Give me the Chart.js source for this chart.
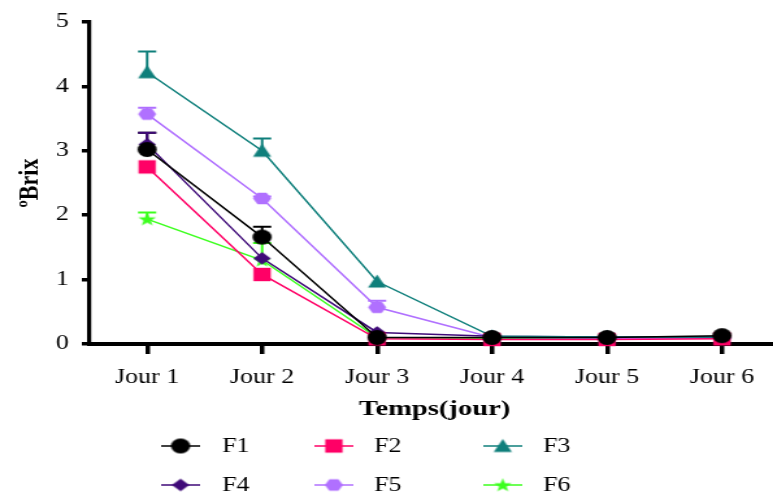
<!DOCTYPE html>
<html>
<head>
<meta charset="utf-8">
<title>Brix</title>
<script src="https://cdn.jsdelivr.net/npm/chart.js@4/dist/chart.umd.min.js"></script>
<style>
  html, body { margin: 0; padding: 0; background: #fff; overflow: hidden; }
  #wrap { width: 600px; height: 495px; transform: scaleX(1.2992); transform-origin: 0 0; }
</style>
</head>
<body>
<div id="wrap"><canvas id="brixChart" width="600" height="495"></canvas></div>
<script>
const jours = ['Jour 1', 'Jour 2', 'Jour 3', 'Jour 4', 'Jour 5', 'Jour 6'];
const yTicks = [0, 1, 2, 3, 4, 5];

const f1 = [3.02, 1.66, 0.10, 0.10, 0.10, 0.13];
const f2 = [2.75, 1.08, 0.08, 0.07, 0.07, 0.08];
const f3 = [4.22, 3.00, 0.97, 0.12, 0.11, 0.11];
const f4 = [3.10, 1.33, 0.18, 0.12, 0.11, 0.11];
const f5 = [3.57, 2.26, 0.57, 0.10, 0.09, 0.09];
const f6 = [1.94, 1.30, 0.10, 0.09, 0.09, 0.09];

// ecart-type (seulement la moitie haute est visible)
const f1Err = [0.26, 0.16, 0, 0, 0, 0];
const f2Err = [0, 0, 0, 0, 0, 0];
const f3Err = [0.32, 0.19, 0, 0, 0, 0];
const f4Err = [0.18, 0, 0, 0, 0, 0];
const f5Err = [0.10, 0.03, 0.10, 0, 0, 0];
const f6Err = [0.10, 0.27, 0, 0, 0, 0];

const serif = "'Liberation Serif', 'Times New Roman', serif";

function makeMarker(shape, color) {
    const c = document.createElement('canvas');
    c.width = 17;
    c.height = 17;
    const g = c.getContext('2d');
    const cx = 8.5, cy = 8.5;
    g.fillStyle = color;
    g.beginPath();
    if (shape === 'circle') {
        g.arc(cx, cy, 7.4, 0, Math.PI * 2);
    } else if (shape === 'square') {
        g.rect(1.8, 1.8, 13.4, 13.4);
    } else if (shape === 'triangle') {
        g.moveTo(cx, 1.5); g.lineTo(15.5, 14.5); g.lineTo(1.5, 14.5);
    } else if (shape === 'diamond') {
        g.moveTo(cx, 2.2); g.lineTo(15.2, cy); g.lineTo(cx, 14.8); g.lineTo(1.8, cy);
    } else if (shape === 'hexagon') {
        g.moveTo(1.5, cy); g.lineTo(5, 2.8); g.lineTo(12, 2.8);
        g.lineTo(15.5, cy); g.lineTo(12, 14.2); g.lineTo(5, 14.2);
    } else if (shape === 'star') {
        for (let i = 0; i < 10; i++) {
            const r = i % 2 ? 2.9 : 7.2;
            const a = -Math.PI / 2 + i * Math.PI / 5;
            const px = cx + r * Math.cos(a), py = cy + 0.5 + r * Math.sin(a);
            if (i === 0) g.moveTo(px, py); else g.lineTo(px, py);
        }
    }
    g.closePath();
    g.fill();
    return c;
}

function serie(label, data, color, shape) {
    return {
        label: label,
        data: data,
        borderColor: color,
        backgroundColor: color,
        borderWidth: 1.5,
        pointStyle: makeMarker(shape, color),
        pointRadius: 7,
        tension: 0,
        clip: false
    };
}

const errBars = [f1Err, f2Err, f3Err, f4Err, f5Err, f6Err];

const errorBarsPlugin = {
    id: 'errorBars',
    beforeDatasetsDraw(chart) {
        const { ctx, scales: { x, y } } = chart;
        ctx.save();
        chart.data.datasets.forEach((ds, i) => {
            errBars[i].forEach((e, j) => {
                if (!e) return;
                const px = x.getPixelForValue(j);
                const py = y.getPixelForValue(ds.data[j]);
                const pt = y.getPixelForValue(ds.data[j] + e);
                ctx.strokeStyle = ds.borderColor;
                ctx.lineWidth = 2;
                ctx.beginPath();
                ctx.moveTo(px, py);
                ctx.lineTo(px, pt);
                ctx.moveTo(px - 7, pt);
                ctx.lineTo(px + 7, pt);
                ctx.stroke();
            });
        });
        ctx.restore();
    }
};

const legendCols = [139, 257, 387];
const legendTextX = [171, 288, 418];
const legendRows = [446, 485];

const bottomLegendPlugin = {
    id: 'bottomLegend',
    afterDraw(chart) {
        const ctx = chart.ctx;
        ctx.save();
        ctx.font = '20px ' + serif;
        ctx.textBaseline = 'middle';
        ctx.textAlign = 'left';
        chart.data.datasets.forEach((ds, i) => {
            const mx = legendCols[i % 3];
            const my = legendRows[Math.floor(i / 3)];
            ctx.strokeStyle = ds.borderColor;
            ctx.lineWidth = 1.5;
            ctx.beginPath();
            ctx.moveTo(mx - 15, my);
            ctx.lineTo(mx + 15, my);
            ctx.stroke();
            ctx.drawImage(ds.pointStyle, mx - 8.5, my - 8.5);
            ctx.fillStyle = '#000';
            ctx.fillText(ds.label, legendTextX[i % 3], my + 1);
        });
        ctx.restore();
    }
};

const ctx = document.getElementById('brixChart').getContext('2d');

window.brixChart = new Chart(ctx, {
    type: 'line',
    data: {
        labels: jours,
        datasets: [
            serie('F1', f1, '#000000', 'circle'),
            serie('F2', f2, '#FF0066', 'square'),
            serie('F3', f3, '#0F7F7B', 'triangle'),
            serie('F4', f4, '#3F0A78', 'diamond'),
            serie('F5', f5, '#B070FF', 'hexagon'),
            serie('F6', f6, '#3CFF1E', 'star')
        ]
    },
    options: {
        responsive: false,
        animation: false,
        layout: {
            autoPadding: false,
            padding: { top: 20, right: 0, bottom: 71, left: 0 }
        },
        plugins: {
            legend: { display: false },
            tooltip: { enabled: false }
        },
        scales: {
            x: {
                offset: true,
                afterFit: (s) => { s.height = 80; s.paddingLeft = 0; s.paddingRight = 0; },
                border: { display: true, color: '#000', width: 4 },
                grid: {
                    display: true,
                    drawOnChartArea: false,
                    drawTicks: true,
                    tickLength: 10,
                    lineWidth: 3.5,
                    color: '#000'
                },
                ticks: {
                    color: '#000',
                    padding: 12,
                    maxRotation: 0,
                    font: { family: serif, size: 20 }
                },
                title: {
                    display: true,
                    text: 'Temps(jour)',
                    color: '#000',
                    padding: { top: 0, bottom: 1 },
                    font: { family: serif, size: 22, weight: 'bold' }
                }
            },
            y: {
                min: 0,
                max: 5,
                afterFit: (s) => { s.width = 69; },
                afterBuildTicks: (s) => { s.ticks = yTicks.map(v => ({ value: v })); },
                border: { display: true, color: '#000', width: 3.2 },
                grid: {
                    display: true,
                    drawOnChartArea: false,
                    drawTicks: true,
                    tickLength: 6,
                    lineWidth: 3.5,
                    color: '#000'
                },
                ticks: {
                    color: '#000',
                    padding: 10,
                    font: { family: serif, size: 20 }
                },
                title: {
                    display: true,
                    text: 'ºBrix',
                    color: '#000',
                    padding: { top: 10, bottom: 0 },
                    font: { family: serif, size: 22, weight: 'bold' }
                }
            }
        }
    },
    plugins: [errorBarsPlugin, bottomLegendPlugin]
});
</script>
</body>
</html>
